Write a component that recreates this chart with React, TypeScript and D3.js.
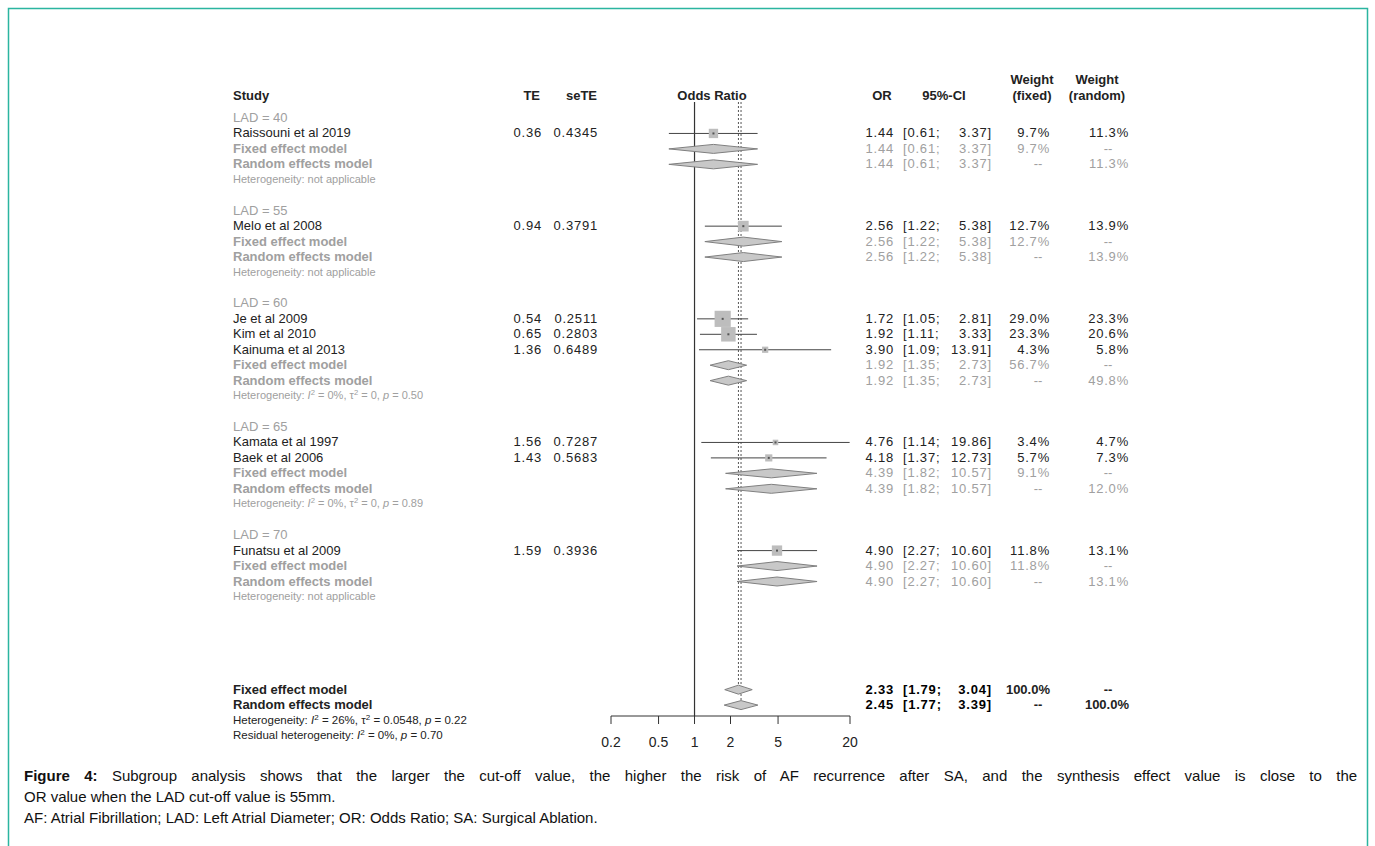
import React from 'react';
import * as d3 from 'd3';

// subgroups
const groups = ['LAD = 40', 'LAD = 55', 'LAD = 60', 'LAD = 65', 'LAD = 70'];
// heterogeneity per subgroup: [I2, tau2, p] or null when not applicable
const groupHet: (string[] | null)[] = [
  null,
  null,
  ['0%', '0', '0.50'],
  ['0%', '0', '0.89'],
  null,
];

// studies
const studies = ['Raissouni et al 2019', 'Melo et al 2008', 'Je et al 2009', 'Kim et al 2010', 'Kainuma et al 2013', 'Kamata et al 1997', 'Baek et al 2006', 'Funatsu et al 2009'];
const studyGroup = [0, 1, 2, 2, 2, 3, 3, 4];
const te = ['0.36', '0.94', '0.54', '0.65', '1.36', '1.56', '1.43', '1.59'];
const seTE = ['0.4345', '0.3791', '0.2511', '0.2803', '0.6489', '0.7287', '0.5683', '0.3936'];
const orVal = [1.44, 2.56, 1.72, 1.92, 3.90, 4.76, 4.18, 4.90];
const ciLo = [0.61, 1.22, 1.05, 1.11, 1.09, 1.14, 1.37, 2.27];
const ciHi = [3.37, 5.38, 2.81, 3.33, 13.91, 19.86, 12.73, 10.60];
const wFixed = [9.7, 12.7, 29.0, 23.3, 4.3, 3.4, 5.7, 11.8];
const wRandom = [11.3, 13.9, 23.3, 20.6, 5.8, 4.7, 7.3, 13.1];

// subgroup pooled estimates
const gOr = [1.44, 2.56, 1.92, 4.39, 4.90];
const gLo = [0.61, 1.22, 1.35, 1.82, 2.27];
const gHi = [3.37, 5.38, 2.73, 10.57, 10.60];
const gWFixed = [9.7, 12.7, 56.7, 9.1, 11.8];
const gWRandom = [11.3, 13.9, 49.8, 12.0, 13.1];

// overall
const overall = [
  { label: 'Fixed effect model', or: 2.33, lo: 1.79, hi: 3.04, wf: '100.0%', wr: '--' },
  { label: 'Random effects model', or: 2.45, lo: 1.77, hi: 3.39, wf: '--', wr: '100.0%' },
];
const overallHet = ['26%', '0.0548', '0.22'];
const residualHet = ['0%', '', '0.70'];

const axisTicks = [0.2, 0.5, 1, 2, 5, 20];

const FONT = 'Liberation Sans, Arial, sans-serif';
const GREY = '#a0a0a0';
const top = 118;
const step = 15.45;
const rowY = (i: number) => top + i * step;
const LS = 0.8; // digits in the original are a bit wider

// column anchors
const C_TE = 542, C_SE = 598, C_OR = 894, C_LO = 903, C_HI = 992, C_WF = 1050, C_WR = 1129;

export default function App() {
  const x = d3.scaleLog().domain([0.2, 20]).range([611, 850]);
  const f2 = (v: number) => v.toFixed(2);
  const pct = (v: number) => v.toFixed(1) + '%';

  const els: React.ReactNode[] = [];
  let row = 0;

  const ciText = (y: number, o: number, lo: number, hi: number, fill: string, bold = false, key = '') => (
    <g key={key} fill={fill} fontWeight={bold ? 'bold' : 'normal'} letterSpacing={LS}>
      <text x={C_OR} y={y} textAnchor="end">{f2(o)}</text>
      <text x={C_LO} y={y}>[{f2(lo)};</text>
      <text x={C_HI} y={y} textAnchor="end">{f2(hi)}]</text>
    </g>
  );
  const diamond = (y: number, o: number, lo: number, hi: number, key: string) => (
    <path key={key} d={`M${x(lo)},${y}L${x(o)},${y - 4.5}L${x(hi)},${y}L${x(o)},${y + 4.5}Z`} fill="#c8c8c8" stroke="#808080" strokeWidth={1} />
  );
  const het = (y: number, h: string[] | null, key: string, fill: string, size: number, prefix = 'Heterogeneity: ') => {
    if (!h) return <text key={key} x={233} y={y} fill={fill} fontSize={size}>{prefix}not applicable</text>;
    const sup = (k: string) => <tspan key={k} dy={-4} fontSize={size * 0.7}>2</tspan>;
    return (
      <text key={key} x={233} y={y} fill={fill} fontSize={size}>
        {prefix}<tspan fontStyle="italic">I</tspan>{sup('a')}<tspan dy={4}> = {h[0]}, </tspan>
        {h[1] !== '' && <><tspan>τ</tspan>{sup('b')}<tspan dy={4}> = {h[1]}, </tspan></>}
        <tspan fontStyle="italic">p</tspan><tspan> = {h[2]}</tspan>
      </text>
    );
  };

  groups.forEach((g, gi) => {
    const y0 = rowY(row);
    els.push(<text key={'g' + gi} x={233} y={y0 + 4} fill={GREY}>{g}</text>);
    row++;
    studies.forEach((s, si) => {
      if (studyGroup[si] !== gi) return;
      const y = rowY(row);
      const side = Math.sqrt(wFixed[si]) * 3;
      els.push(
        <g key={'s' + si}>
          <text x={233} y={y + 4}>{s}</text>
          <text x={C_TE} y={y + 4} textAnchor="end" letterSpacing={LS}>{te[si]}</text>
          <text x={C_SE} y={y + 4} textAnchor="end" letterSpacing={LS}>{seTE[si]}</text>
          <line x1={x(ciLo[si])} x2={x(ciHi[si])} y1={y} y2={y} stroke="#444" strokeWidth={1} />
          <rect x={x(orVal[si]) - side / 2} y={y - side / 2} width={side} height={side} fill="#bdbdbd" />
          <rect x={x(orVal[si]) - 1} y={y - 1} width={2} height={2} fill="#555" />
          {ciText(y + 4, orVal[si], ciLo[si], ciHi[si], '#222')}
          <text x={C_WF} y={y + 4} textAnchor="end" letterSpacing={LS}>{pct(wFixed[si])}</text>
          <text x={C_WR} y={y + 4} textAnchor="end" letterSpacing={LS}>{pct(wRandom[si])}</text>
        </g>
      );
      row++;
    });
    const yf = rowY(row);
    const yr = rowY(row + 1);
    els.push(
      <g key={'gs' + gi}>
        <text x={233} y={yf + 4} fill={GREY} fontWeight="bold">Fixed effect model</text>
        <text x={233} y={yr + 4} fill={GREY} fontWeight="bold">Random effects model</text>
        {diamond(yf, gOr[gi], gLo[gi], gHi[gi], 'df')}
        {diamond(yr, gOr[gi], gLo[gi], gHi[gi], 'dr')}
        {ciText(yf + 4, gOr[gi], gLo[gi], gHi[gi], GREY, false, 'cf')}
        {ciText(yr + 4, gOr[gi], gLo[gi], gHi[gi], GREY, false, 'cr')}
        <text x={C_WF} y={yf + 4} textAnchor="end" fill={GREY} letterSpacing={LS}>{pct(gWFixed[gi])}</text>
        <text x={1108} y={yf + 4} textAnchor="middle" fill={GREY}>--</text>
        <text x={1038} y={yr + 4} textAnchor="middle" fill={GREY}>--</text>
        <text x={C_WR} y={yr + 4} textAnchor="end" fill={GREY} letterSpacing={LS}>{pct(gWRandom[gi])}</text>
        {het(rowY(row + 2) + 3, groupHet[gi], 'h', GREY, 11)}
      </g>
    );
    row += 4;
  });

  const oRow = 37;
  overall.forEach((o, i) => {
    const y = rowY(oRow + i);
    els.push(
      <g key={'o' + i}>
        <text x={233} y={y + 4} fontWeight="bold">{o.label}</text>
        {diamond(y, o.or, o.lo, o.hi, 'd')}
        {ciText(y + 4, o.or, o.lo, o.hi, '#000', true, 'c')}
        <text x={o.wf === '--' ? 1038 : C_WF} y={y + 4} textAnchor={o.wf === '--' ? 'middle' : 'end'} fontWeight="bold">{o.wf}</text>
        <text x={o.wr === '--' ? 1108 : C_WR} y={y + 4} textAnchor={o.wr === '--' ? 'middle' : 'end'} fontWeight="bold">{o.wr}</text>
      </g>
    );
  });
  const axisY = 716;

  return (
    <svg width={1375} height={846} style={{ position: 'absolute', left: 0, top: 0 }} fontFamily={FONT} fontSize={13} fill="#222">
      <rect x={0} y={0} width={1375} height={846} fill="#fff" />
      <rect x={8.5} y={8.5} width={1359} height={850} fill="none" stroke="#2bb5a0" strokeWidth={1.5} />
      <line x1={x(1)} x2={x(1)} y1={102} y2={axisY} stroke="#333" strokeWidth={1.2} />
      <line x1={x(2.33)} x2={x(2.33)} y1={102} y2={rowY(oRow)} stroke="#555" strokeDasharray="2,2" />
      <line x1={x(2.45)} x2={x(2.45)} y1={102} y2={rowY(oRow + 1)} stroke="#555" strokeDasharray="2,2" />
      <g fontWeight="bold" fill="#222">
        <text x={540} y={100} textAnchor="end">TE</text>
        <text x={597} y={100} textAnchor="end">seTE</text>
        <text x={233} y={100}>Study</text>
        <text x={712} y={100} textAnchor="middle">Odds Ratio</text>
        <text x={882} y={100} textAnchor="middle">OR</text>
        <text x={944} y={100} textAnchor="middle">95%-CI</text>
        <text x={1032} y={84} textAnchor="middle">Weight</text>
        <text x={1032} y={100} textAnchor="middle">(fixed)</text>
        <text x={1097} y={84} textAnchor="middle">Weight</text>
        <text x={1097} y={100} textAnchor="middle">(random)</text>
      </g>
      {els}
      {het(rowY(oRow + 2) + 3, overallHet, 'oh', '#222', 11.5)}
      {het(rowY(oRow + 3) + 3, residualHet, 'rh', '#222', 11.5, 'Residual heterogeneity: ')}
      <g stroke="#333">
        <line x1={x(0.2)} x2={x(20)} y1={axisY} y2={axisY} />
        {axisTicks.map((t) => <line key={t} x1={x(t)} x2={x(t)} y1={axisY} y2={axisY + 8} />)}
      </g>
      {axisTicks.map((t) => <text key={t} x={x(t)} y={axisY + 31} textAnchor="middle" fontSize={14}>{t}</text>)}
      <g fontSize={15} fill="#111">
        <text x={24} y={781} wordSpacing={10.2}><tspan fontWeight="bold">Figure 4:</tspan> Subgroup analysis shows that the larger the cut-off value, the higher the risk of AF recurrence after SA, and the synthesis effect value is close to the</text>
        <text x={24} y={802}>OR value when the LAD cut-off value is 55mm.</text>
        <text x={24} y={823}>AF: Atrial Fibrillation; LAD: Left Atrial Diameter; OR: Odds Ratio; SA: Surgical Ablation.</text>
      </g>
    </svg>
  );
}
